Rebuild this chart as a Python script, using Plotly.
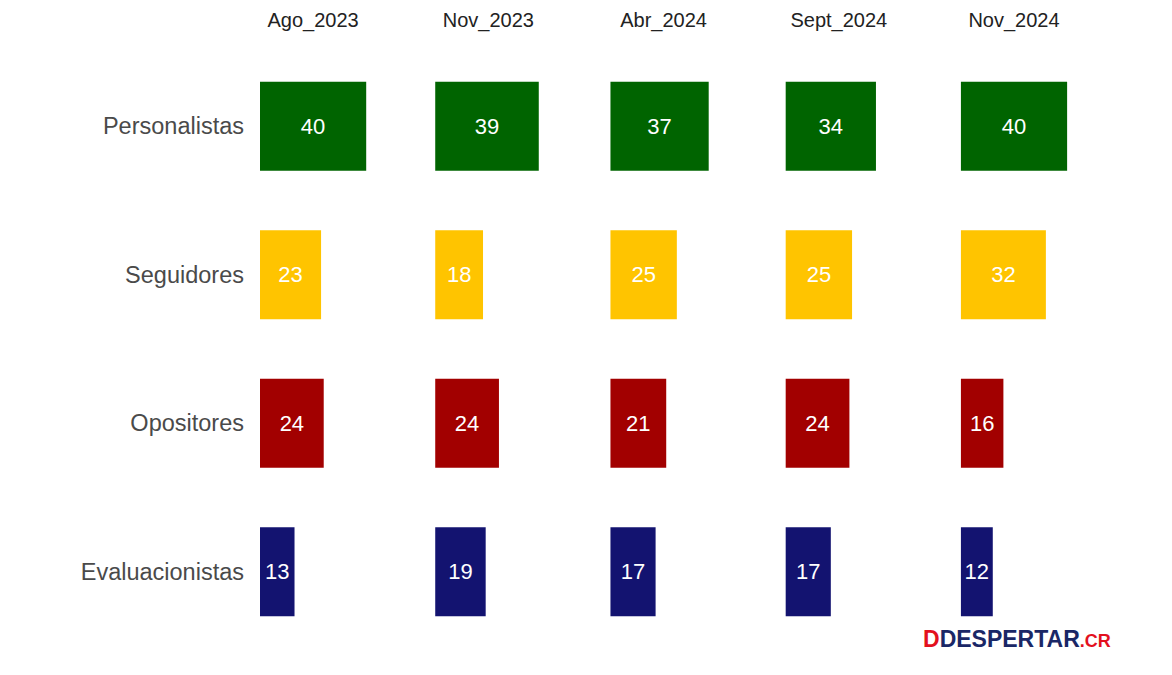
import plotly.graph_objects as go

periods = ["Ago_2023", "Nov_2023", "Abr_2024", "Sept_2024", "Nov_2024"]
categories = ["Personalistas", "Seguidores", "Opositores", "Evaluacionistas"]
personalistas = [40, 39, 37, 34, 40]
seguidores = [23, 18, 25, 25, 32]
opositores = [24, 24, 21, 24, 16]
evaluacionistas = [13, 19, 17, 17, 12]
colors = {"Personalistas": "#006400", "Seguidores": "#FFC400",
          "Opositores": "#A20000", "Evaluacionistas": "#131370"}

series = dict(zip(categories, [personalistas, seguidores, opositores, evaluacionistas]))
step = 66  # slot width per period, in value units

fig = go.Figure()
for cat in categories:
    vals = series[cat]
    fig.add_trace(go.Bar(
        orientation="h",
        y=[cat] * len(vals),
        x=vals,
        base=[i * step for i in range(len(vals))],
        width=0.6,
        marker=dict(color=colors[cat], line=dict(width=0)),
        text=[str(v) for v in vals],
        textposition="inside",
        insidetextanchor="middle",
        textangle=0,
        constraintext="none",
        textfont=dict(color="white", size=22, family="Liberation Sans, Arial"),
        showlegend=False,
        hoverinfo="skip",
    ))

plot_w = 1172 - 260 - 60
fig.update_layout(
    width=1172, height=675,
    margin=dict(l=260, r=60, t=52, b=29),
    paper_bgcolor="white", plot_bgcolor="white",
    barmode="overlay",
    font=dict(family="Liberation Sans, Arial", color="#444444"),
    xaxis=dict(
        side="top", range=[0, plot_w / 2.655],
        tickvals=[i * step + 20 for i in range(len(periods))],
        ticktext=periods,
        tickfont=dict(size=20, color="#222222"),
        ticklabelstandoff=20,
        automargin=False,
        showgrid=False, zeroline=False, showline=False, ticks="",
        fixedrange=True,
    ),
    yaxis=dict(
        categoryorder="array", categoryarray=categories,
        range=[3.5, -0.5],
        tickfont=dict(size=23.5, color="#4a4a4a"),
        automargin=False,
        showgrid=False, zeroline=False, showline=False, ticks="",
        ticklabelstandoff=15,
    ),
    annotations=[dict(
        xref="paper", yref="paper", x=1.001, y=0.012, xanchor="right", yanchor="middle",
        text="<b><span style='color:#E3101E'>D</span><span style='color:#1A2766'>DESPERTAR</span>"
             "<span style='color:#E3101E;font-size:18px'>.CR</span></b>",
        showarrow=False, font=dict(size=23, family="Liberation Sans, Arial"),
    )],
)

fig.write_html("out.html")
